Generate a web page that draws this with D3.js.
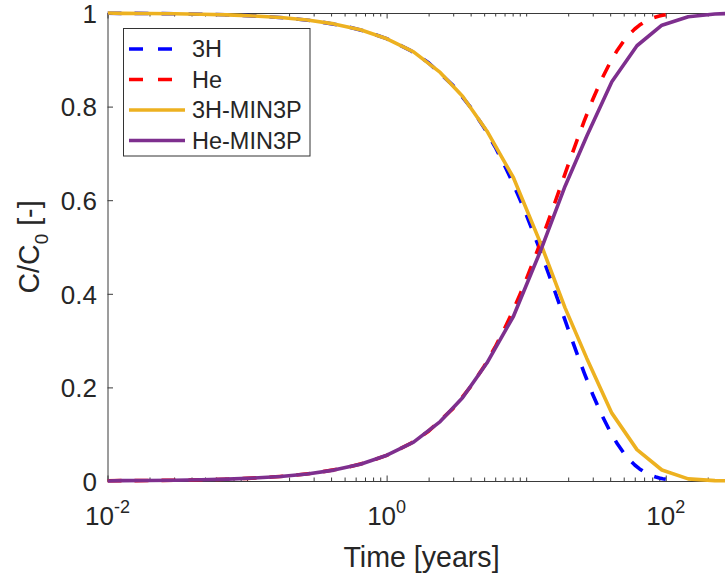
<!DOCTYPE html>
<html>
<head>
<meta charset="utf-8">
<script src="https://cdn.jsdelivr.net/npm/d3@7"></script>
<style>
  html, body { margin: 0; padding: 0; background: #fff; }
  svg { display: block; }
  text { font-family: "Liberation Sans", Arial, Helvetica, sans-serif; fill: #262626; }
</style>
</head>
<body>
<svg id="chart" width="725" height="577"></svg>
<script>
// ---------- data ----------
const analyticTime = [0.01, 0.015, 0.02, 0.03, 0.05, 0.07, 0.1, 0.15, 0.2, 0.3, 0.5, 0.7, 1, 1.5, 2, 3, 4, 5, 6, 7, 8, 9, 10, 12, 14, 16, 18, 20, 23, 26, 30, 35, 40, 45, 50, 55, 60, 65, 70, 75, 80, 85, 90, 95, 100];
const h3Analytic = [0.9994, 0.9992, 0.9989, 0.9983, 0.9972, 0.9961, 0.9944, 0.9916, 0.9888, 0.9833, 0.9723, 0.9614, 0.9453, 0.9191, 0.8935, 0.8448, 0.7985, 0.7548, 0.7136, 0.6745, 0.6376, 0.6027, 0.5697, 0.5091, 0.4549, 0.4065, 0.3632, 0.3246, 0.2742, 0.2316, 0.1849, 0.1396, 0.1054, 0.0795, 0.0600, 0.0453, 0.0342, 0.0258, 0.0195, 0.0147, 0.0111, 0.0084, 0.0063, 0.0048, 0.0036];
const heAnalytic = [0.0006, 0.0008, 0.0011, 0.0017, 0.0028, 0.0039, 0.0056, 0.0084, 0.0112, 0.0167, 0.0277, 0.0386, 0.0547, 0.0809, 0.1065, 0.1552, 0.2015, 0.2452, 0.2864, 0.3255, 0.3624, 0.3973, 0.4303, 0.4909, 0.5451, 0.5935, 0.6368, 0.6754, 0.7258, 0.7684, 0.8151, 0.8604, 0.8946, 0.9205, 0.9400, 0.9547, 0.9658, 0.9742, 0.9805, 0.9853, 0.9889, 0.9916, 0.9937, 0.9952, 0.9964];

const min3pTime = [0.01, 0.0126, 0.0195, 0.0302, 0.0468, 0.0725, 0.112, 0.174, 0.27, 0.419, 0.649, 1.006, 1.56, 2.42, 3.5, 5.23, 8.11, 12.8, 19.0, 27.2, 41.1, 62.2, 93.9, 145, 225, 350];
const h3Min3p = [1.0, 0.9993, 0.9989, 0.9983, 0.9974, 0.9960, 0.9937, 0.9903, 0.9849, 0.9767, 0.9642, 0.9449, 0.917, 0.873, 0.822, 0.748, 0.648, 0.505, 0.370, 0.262, 0.145, 0.067, 0.0235, 0.0045, 0.0008, 0.0001];
const heMin3p = [0.0, 0.0007, 0.0011, 0.0017, 0.0026, 0.0040, 0.0063, 0.0097, 0.0151, 0.0233, 0.0358, 0.0551, 0.083, 0.127, 0.178, 0.252, 0.352, 0.495, 0.630, 0.737, 0.853, 0.930, 0.974, 0.992, 0.998, 0.9995];

const seriesNames = ["3H", "He", "3H-MIN3P", "He-MIN3P"];
const yTicks = [0, 0.2, 0.4, 0.6, 0.8, 1];
const yTickLabels = ["0", "0.2", "0.4", "0.6", "0.8", "1"];
const xMajorTicks = [0.01, 1, 100];
const xMajorExponents = ["-2", "0", "2"];
const xLabel = "Time [years]";

// ---------- layout ----------
const svg = d3.select("#chart");
const L = 107.5, R = 735.5, T = 13, B = 481;
const x = d3.scaleLog().domain([0.01, 316.23]).range([L, R]);
const y = d3.scaleLinear().domain([0, 1]).range([B, T]);

const axisColor = "#3a3a3a";
const textColor = "#262626";

// minor ticks for log axis
const xMinorTicks = [];
for (let e = -2; e <= 2; e++) {
  for (let k = 1; k <= 9; k++) {
    const v = k * Math.pow(10, e);
    if (v > 316) continue;
    if (k === 1 && (e === -2 || e === 0 || e === 2)) continue;
    xMinorTicks.push(v);
  }
}

// clip
svg.append("defs").append("clipPath").attr("id", "plotclip")
  .append("rect").attr("x", L).attr("y", T - 3).attr("width", R - L).attr("height", B - T + 6);

function styleAxis(g) {
  g.selectAll("path.domain").attr("stroke", axisColor).attr("stroke-width", 1);
  g.selectAll(".tick line").attr("stroke", axisColor).attr("stroke-width", 1);
}

// bottom axis
const gb = svg.append("g").attr("transform", `translate(0,${B})`);
gb.call(d3.axisBottom(x).tickValues(xMajorTicks).tickSizeInner(-5.5).tickSizeOuter(0).tickFormat(""));
styleAxis(gb);
const gbm = svg.append("g").attr("transform", `translate(0,${B})`);
gbm.call(d3.axisBottom(x).tickValues(xMinorTicks).tickSizeInner(-3.5).tickSizeOuter(0).tickFormat(""));
styleAxis(gbm);
gbm.select("path.domain").remove();

// top axis
const gt = svg.append("g").attr("transform", `translate(0,${T})`);
gt.call(d3.axisTop(x).tickValues(xMajorTicks).tickSizeInner(-5.5).tickSizeOuter(0).tickFormat(""));
styleAxis(gt);
const gtm = svg.append("g").attr("transform", `translate(0,${T})`);
gtm.call(d3.axisTop(x).tickValues(xMinorTicks).tickSizeInner(-3.5).tickSizeOuter(0).tickFormat(""));
styleAxis(gtm);
gtm.select("path.domain").remove();

// left axis
const gl = svg.append("g").attr("transform", `translate(${L},0)`);
gl.call(d3.axisLeft(y).tickValues(yTicks).tickSizeInner(-5.5).tickSizeOuter(0)
  .tickPadding(10.5).tickFormat((d, i) => yTickLabels[i]));
styleAxis(gl);
gl.selectAll(".tick text")
  .attr("font-size", 26)
  .attr("font-family", '"Liberation Sans", Arial, Helvetica, sans-serif')
  .attr("fill", textColor)
  .attr("dy", "0.36em");
gl.attr("font-size", null).attr("font-family", null);

// x tick labels with superscripts
xMajorTicks.forEach((v, i) => {
  const t = svg.append("text")
    .attr("x", x(v))
    .attr("y", 525)
    .attr("text-anchor", "middle")
    .attr("font-size", 26);
  t.append("tspan").text("10");
  t.append("tspan").attr("dy", -12.5).attr("font-size", 18).text(xMajorExponents[i]);
});

// axis labels
svg.append("text")
  .attr("x", 421.5).attr("y", 566.5)
  .attr("text-anchor", "middle")
  .attr("font-size", 28.6)
  .text(xLabel);

const yl = svg.append("text")
  .attr("transform", `translate(39,${(T + B) / 2}) rotate(-90)`)
  .attr("text-anchor", "middle")
  .attr("font-size", 28.6);
yl.append("tspan").text("C/C");
yl.append("tspan").attr("dy", 9).attr("font-size", 19).text("0");
yl.append("tspan").attr("dy", -9).text(" [-]");

// ---------- lines ----------
const plot = svg.append("g").attr("clip-path", "url(#plotclip)");
const line = d3.line().x(d => x(d[0])).y(d => y(d[1]));

const series = [
  { name: seriesNames[0], t: analyticTime, v: h3Analytic, color: "#0000ff", dash: "14,13" },
  { name: seriesNames[1], t: analyticTime, v: heAnalytic, color: "#ff0000", dash: "14,13" },
  { name: seriesNames[2], t: min3pTime, v: h3Min3p, color: "#edb120", dash: null },
  { name: seriesNames[3], t: min3pTime, v: heMin3p, color: "#7e2f8e", dash: null }
];

series.forEach(s => {
  const pts = s.t.map((t, i) => [t, s.v[i]]);
  plot.append("path")
    .datum(pts)
    .attr("d", line)
    .attr("fill", "none")
    .attr("stroke", s.color)
    .attr("stroke-width", 3.6)
    .attr("stroke-linejoin", "round")
    .attr("stroke-dasharray", s.dash);
});

// ---------- legend ----------
const lg = svg.append("g");
lg.append("rect")
  .attr("x", 123.5).attr("y", 28.5).attr("width", 186.5).attr("height", 127.5)
  .attr("fill", "#fff").attr("stroke", "#333").attr("stroke-width", 1);
series.forEach((s, i) => {
  const yy = 49 + i * 30.5;
  lg.append("line")
    .attr("x1", 129).attr("x2", 185).attr("y1", yy).attr("y2", yy)
    .attr("stroke", s.color).attr("stroke-width", 3.6)
    .attr("stroke-dasharray", s.dash ? "14,15" : null);
  lg.append("text")
    .attr("x", 192).attr("y", yy).attr("dy", "0.36em")
    .attr("font-size", 23.5)
    .text(s.name);
});
</script>
</body>
</html>
